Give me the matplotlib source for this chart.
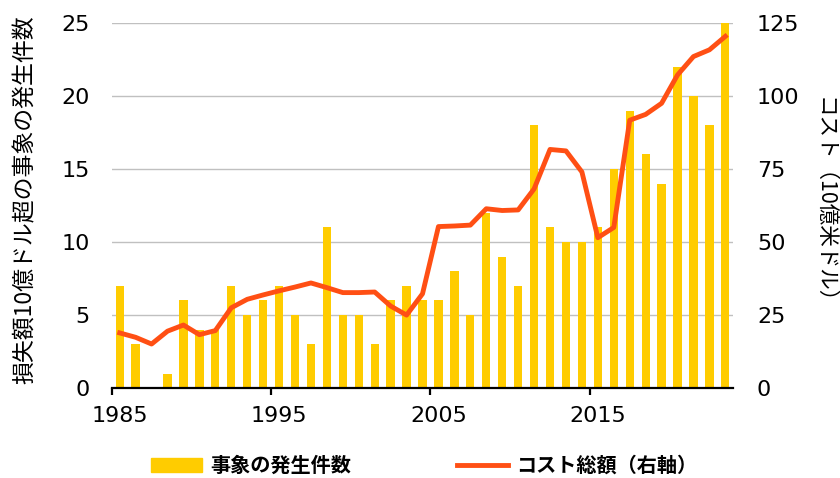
import matplotlib
matplotlib.use("Agg")
import matplotlib.pyplot as plt
from matplotlib.lines import Line2D
from matplotlib.patches import Patch
import numpy as np

plt.rcParams['font.family'] = ['DejaVu Sans', 'Noto Sans CJK JP']

# data
years = list(range(1985, 2024))
event_counts = [7, 3, 0, 1, 6, 4, 4, 7, 5, 6,
                7, 5, 3, 11, 5, 5, 3, 6, 7, 6,
                6, 8, 5, 12, 9, 7, 18, 11, 10, 10,
                11, 15, 19, 16, 14, 22, 20, 18, 25]
total_cost = [18.9, 17.4, 15.1, 19.5, 21.6, 18.3, 19.7, 27.5, 30.4, 31.9,
              33.3, 34.6, 36.0, 34.4, 32.7, 32.7, 32.9, 28.1, 25.0, 32.3,
              55.3, 55.5, 55.8, 61.4, 60.8, 61.0, 68.2, 81.7, 81.2, 74.0,
              51.5, 55.0, 91.7, 93.7, 97.5, 107.2, 113.5, 115.8, 120.4]
xtick_years = [1985, 1995, 2005, 2015]

left_label = '損失額10億ドル超の事象の発生件数'
right_label = 'コスト（10億米ドル）'
bar_name = '事象の発生件数'
line_name = 'コスト総額（右軸）'

bar_color = '#FFCC00'
line_color = '#FF4F14'
jp = ['Noto Sans CJK JP', 'DejaVu Sans']

fig = plt.figure(figsize=(8.4, 4.78), dpi=100)
ax = fig.add_axes([0.133, 0.188, 0.74, 0.764])
ax2 = ax.twinx()

x = np.array(years) + 0.5
ax.bar(x, event_counts, width=0.52, color=bar_color, zorder=2)
ax2.plot(x, total_cost, color=line_color, lw=3.5, solid_joinstyle='round', zorder=3)

ax.set_xlim(1985, 2024)
ax.set_ylim(0, 25)
ax2.set_ylim(0, 125)
ax.set_yticks(range(0, 26, 5))
ax2.set_yticks(range(0, 126, 25))

# tick marks at the year boundary, labels centred on the year's bar
ax.set_xticks(xtick_years)
ax.set_xticklabels([])
ax.set_xticks([y + 0.5 for y in xtick_years], minor=True)
ax.set_xticklabels([str(y) for y in xtick_years], minor=True)

ax.grid(axis='y', color='#C0C0C0', lw=1.0, zorder=0)
ax.set_axisbelow(True)

for a in (ax, ax2):
    for s in ('left', 'right', 'top'):
        a.spines[s].set_visible(False)
ax2.spines['bottom'].set_visible(False)
ax.spines['bottom'].set_linewidth(1.6)
ax.spines['bottom'].set_zorder(5)

ax.tick_params(axis='y', length=0, pad=16, labelsize=16)
ax2.tick_params(axis='y', length=0, pad=17, labelsize=16)
ax.tick_params(axis='x', which='major', length=5, width=1.6)
ax.tick_params(axis='x', which='minor', length=0, pad=13, labelsize=16)

ax.set_ylabel(left_label, family=jp, fontsize=16.5)
ax.yaxis.set_label_coords(-0.121, 0.515)
ax2.set_ylabel(right_label, family=jp, fontsize=15.5, rotation=-90, va='center')
ax2.yaxis.set_label_coords(1.145, 0.50)

handles = [Patch(color=bar_color), Line2D([], [], color=line_color, lw=3.5)]
fig.legend(handles, [bar_name, line_name], loc='center', bbox_to_anchor=(0.505, 0.026),
           ncol=2, frameon=False, handlelength=2.5, handletextpad=0.4,
           columnspacing=5.3, prop={'family': jp, 'weight': 'bold', 'size': 14.5})

fig.savefig('out.png', dpi=100)
